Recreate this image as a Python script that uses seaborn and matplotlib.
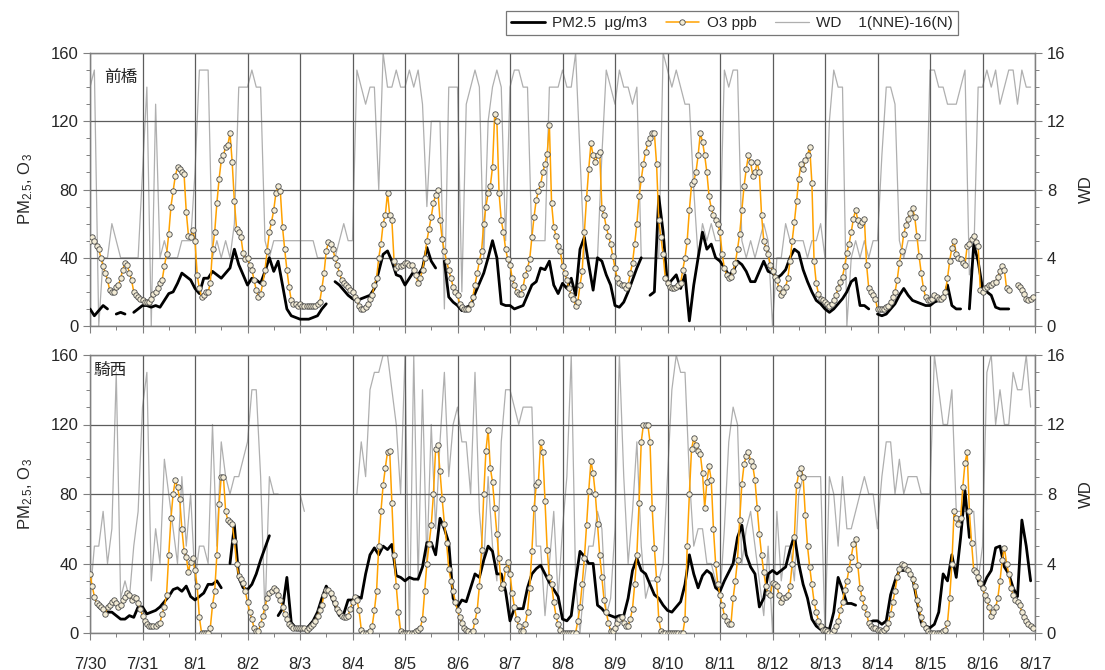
import numpy as np
import pandas as pd
import matplotlib
matplotlib.use("Agg")
import matplotlib.pyplot as plt
from matplotlib.lines import Line2D
from matplotlib.ticker import MultipleLocator
import seaborn as sns

nan = np.nan

# ---------------------------------------------------------------------------
# Data, starting 7/30 00:00.  O3 is hourly (24 values per day);
# PM2.5 and wind direction are every 2 hours (12 values per day).
# ---------------------------------------------------------------------------
date_labels = ["7/30", "7/31", "8/1", "8/2", "8/3", "8/4", "8/5", "8/6", "8/7",
               "8/8", "8/9", "8/10", "8/11", "8/12", "8/13", "8/14", "8/15",
               "8/16", "8/17"]
stations = ["前橋", "騎西"]
O3_STEP_HOURS = 1
PM_STEP_HOURS = 2
WD_STEP_HOURS = 2

# 前橋 (Maebashi)
maebashi_o3 = [
    50, 52, 50, 47, 45, 40, 35, 31, 27, 21, 20, 20, 23, 24, 28, 33, 37, 36, 31, 27, 20, 18, 17, 16,          # 7/30
    15, 14, 14, 14, 16, 19, 20, 22, 25, 27, 35, 42, 54, 70, 79, 88, 93, 92, 90, 89, 67, 53, 52, 56,          # 7/31
    50, 30, 22, 17, 18, 20, 20, 25, 45, 55, 72, 86, 97, 100, 105, 106, 113, 96, 73, 57, 55, 52, 43, 39,     # 8/1
    40, 36, 33, 27, 21, 17, 19, 25, 33, 44, 55, 61, 68, 78, 82, 79, 58, 45, 33, 23, 15, 13, 13, 12,          # 8/2
    13, 12, 12, 12, 12, 12, 12, 12, 13, 14, 22, 31, 44, 49, 48, 45, 40, 36, 31, 27, 25, 24, 23, 21,          # 8/3
    20, 17, 15, 12, 10, 10, 11, 13, 16, 18, 24, 28, 40, 48, 60, 65, 78, 65, 62, 38, 34, 35, 35, 36,          # 8/4
    37, 37, 36, 36, 33, 30, 25, 28, 33, 40, 50, 57, 64, 72, 77, 80, 62, 51, 44, 38, 33, 28, 23, 20,          # 8/5
    18, 13, 11, 10, 10, 10, 13, 17, 24, 31, 38, 44, 60, 70, 78, 82, 93, 124, 120, 78, 62, 55, 45, 39,       # 8/6
    36, 28, 24, 20, 19, 19, 23, 30, 34, 39, 52, 64, 74, 79, 83, 90, 95, 101, 118, 72, 58, 53, 47, 44,       # 8/7
    35, 31, 27, 22, 18, 16, 12, 14, 24, 32, 55, 75, 92, 107, 100, 96, 100, 102, 69, 65, 58, 53, 48, 41,     # 8/8
    34, 28, 25, 24, 24, 22, 24, 31, 37, 48, 60, 76, 86, 95, 102, 107, 110, 113, 113, 95, 62, 52, 42, 28,    # 8/9
    25, 23, 22, 22, 23, 24, 25, 33, 40, 50, 68, 83, 85, 90, 100, 113, 108, 100, 90, 76, 69, 65, 62, 60,     # 8/10
    55, 42, 34, 30, 28, 29, 32, 37, 45, 54, 68, 82, 92, 100, 96, 88, 90, 96, 90, 65, 50, 46, 42, 36,        # 8/11
    32, 29, 27, 22, 18, 20, 23, 28, 38, 50, 61, 73, 86, 95, 92, 97, 100, 105, 84, 38, 25, 19, 16, 15,       # 8/12
    14, 13, 12, 13, 15, 18, 22, 26, 29, 35, 43, 48, 55, 63, 68, 62, 59, 61, 63, 36, 22, 20, 18, 16,         # 8/13
    10, 10, 10, 10, 11, 12, 14, 17, 20, 27, 37, 44, 54, 59, 63, 66, 69, 64, 53, 41, 31, 22, 17, 15,         # 8/14
    15, 16, 18, 17, 16, 16, 17, 20, 28, 38, 46, 50, 42, 40, 39, 37, 36, 47, 48, 51, 53, 49, 47, 21,         # 8/15
    20, 22, 23, 24, 24, 25, 26, 29, 32, 35, 33, 22, 21, nan, nan, nan, 24, 23, 21, 19, 16, 15, 16, 17,      # 8/16
]
maebashi_pm = [
    10, 6, 9, 12, 10, nan, 7, 8, 7, nan, 8, 10,          # 7/30
    12, 12, 11, 12, 11, 15, 19, 20, 25, 31, 29, 27,      # 7/31
    22, 19, 28, 28, 32, 30, 28, 31, 34, 45, 36, 30,      # 8/1
    24, 28, 27, 25, 32, 40, 32, 38, 24, 10, 6, 5,        # 8/2
    4, 4, 4, 5, 6, 10, 13, nan, 26, 24, 21, 18,          # 8/3
    16, 15, 16, 17, 18, 22, 32, 42, 44, 38, 30, 29,      # 8/4
    24, 28, 32, 30, 34, 46, 38, 34, nan, 38, 17, 14,     # 8/5
    12, 9, 11, 12, 19, 25, 31, 40, 50, 40, 13, 12,       # 8/6
    12, 10, 11, 12, 18, 24, 26, 34, 33, 38, 24, 19,      # 8/7
    25, 22, 28, 18, 45, 52, 36, 21, 40, 38, 30, 24,      # 8/8
    12, 11, 14, 20, 27, 34, 40, nan, 18, 20, 76, 55,     # 8/9
    24, 27, 30, 22, 30, 3, 24, 40, 55, 45, 48, 40,       # 8/10
    38, 34, 30, 32, 38, 36, 32, 26, 26, 32, 38, 32,      # 8/11
    31, 28, 30, 33, 40, 45, 43, 33, 26, 20, 15, 13,      # 8/12
    10, 8, 10, 13, 16, 20, 26, 28, 12, 12, 10, nan,      # 8/13
    7, 6, 7, 10, 13, 18, 22, 18, 15, 14, 13, 12,         # 8/14
    12, 14, 15, 16, 24, 12, 10, 10, nan, 10, 48, 38,     # 8/15
    22, 20, 18, 11, 10, 10, 10, nan, nan, nan, nan, nan, # 8/16
]
maebashi_wd = [
    14, 15, 0, 4, 4, 6, 5, 4, 4, 4, 4, 4,                # 7/30
    9, 14, 0, 13, 4, 5, 4, 4, 4, 5, 5, 5,                # 7/31
    9, 15, 15, 15, 4, 5, 4, 5, 4, 6, 14, 14,             # 8/1
    14, 15, 14, 14, 5, 4, 5, 5, 5, 5, 5, 5,              # 8/2
    5, 5, 5, 5, 4, 4, 4, 4, 4, 5, 6, 5,                  # 8/3
    5, 15, 14, 13, 14, 14, 8, 16, 14, 14, 15, 14,        # 8/4
    14, 15, 14, 15, 13, 7, 12, 12, 12, 1, 14, 14,        # 8/5
    14, 2, 13, 14, 15, 14, 4, 12, 14, 15, 14, 5,         # 8/6
    14, 15, 15, 14, 14, 5, 5, 5, 5, 14, 14, 14,          # 8/7
    15, 14, 14, 16, 10, 4, 4, 4, 4, 10, 15, 14,          # 8/8
    13, 15, 14, 14, 13, 14, 4, 4, 4, 4, 4, 16,           # 8/9
    15, 14, 15, 14, 13, 13, 8, 4, 6, 5, 6, 5,            # 8/10
    5, 15, 14, 15, 15, 5, 4, 5, 4, 5, 6, 5,              # 8/11
    0, 4, 4, 6, 5, 5, 5, 5, 4, 5, 5, 6,                  # 8/12
    4, 12, 15, 14, 14, 0, 4, 5, 4, 5, 4, 5,              # 8/13
    5, 10, 14, 14, 13, 5, 4, 5, 5, 5, 5, 5,              # 8/14
    15, 15, 14, 14, 13, 13, 13, 14, 15, 3, 4, 14,        # 8/15
    14, 15, 14, 15, 13, 14, 15, 15, 13, 15, 14, 14,      # 8/16
]

# 騎西 (Kisai)
kisai_o3 = [
    34, 27, 21, 17, 16, 15, 14, 11, 15, 16, 18, 19, 17, 15, 16, 19, 21, 23, 22, 19, 21, 20, 17, 14,         # 7/30
    10, 7, 5, 4, 4, 4, 4, 5, 6, 11, 15, 22, 45, 66, 80, 88, 84, 77, 60, 47, 44, 35, 41, 43,                 # 7/31
    36, 27, 9, 0, 0, 0, 0, 3, 16, 24, 45, 74, 90, 90, 70, 65, 64, 63, 53, 40, 33, 31, 29, 24,               # 8/1
    18, 12, 8, 3, 1, 1, 5, 10, 15, 20, 23, 24, 26, 25, 22, 19, 15, 11, 8, 5, 4, 3, 3, 3,                    # 8/2
    3, 3, 3, 2, 3, 4, 5, 7, 10, 13, 16, 22, 25, 25, 23, 20, 17, 14, 12, 10, 9, 9, 10, 14,                   # 8/3
    18, 21, 19, 13, 2, 0, 0, 0, 1, 4, 13, 24, 50, 70, 85, 95, 104, 105, 75, 45, 27, 12, 1, 0,               # 8/4
    0, 0, 0, 0, 0, 1, 2, 3, 8, 24, 40, 51, 62, 80, 106, 108, 93, 77, 63, 52, 37, 30, 24, 18,                # 8/5
    13, 9, 6, 3, 2, 1, 0, 1, 7, 13, 27, 48, 80, 105, 117, 95, 87, 72, 57, 43, 26, 28, 37, 41,               # 8/6
    34, 23, 15, 8, 4, 1, 1, 5, 12, 26, 47, 72, 85, 87, 110, 104, 76, 48, 32, 28, 18, 10, 5, 2,              # 8/7
    0, 0, 0, 0, 0, 0, 0, 7, 15, 28, 43, 62, 82, 99, 92, 80, 63, 45, 32, 19, 12, 6, 1, 1,                    # 8/8
    3, 6, 8, 9, 6, 4, 4, 8, 14, 28, 45, 75, 110, 120, 120, 120, 110, 72, 49, 31, 8, 1, 0, 0,                # 8/9
    0, 0, 0, 0, 0, 0, 0, 0, 8, 50, 80, 106, 112, 108, 105, 103, 92, 72, 87, 96, 88, 60, 40, 28,             # 8/10
    22, 16, 10, 7, 5, 5, 20, 30, 42, 65, 86, 97, 102, 104, 99, 96, 88, 72, 57, 45, 35, 27, 23, 22,          # 8/11
    29, 28, 27, 22, 18, 20, 21, 22, 27, 40, 55, 85, 92, 95, 90, 68, 50, 38, 28, 18, 12, 7, 4, 2,            # 8/12
    2, 1, 0, 0, 2, 4, 7, 13, 18, 25, 30, 37, 44, 51, 54, 39, 26, 20, 15, 11, 6, 4, 3, 3,                    # 8/13
    2, 2, 1, 2, 3, 6, 11, 18, 24, 32, 37, 40, 39, 37, 36, 34, 31, 27, 19, 14, 9, 5, 3, 1,                   # 8/14
    0, 0, 0, 0, 0, 0, 1, 2, 6, 20, 40, 70, 66, 63, 66, 84, 98, 104, 70, 52, 36, 35, 32, 29,                 # 8/15
    26, 22, 19, 15, 10, 12, 15, 20, 30, 42, 49, 40, 34, 26, 22, 19, 18, 16, 12, 9, 7, 5, 4, 3,              # 8/16
]
kisai_pm = [
    nan, nan, 15, 13, 12, 12, 10, 8, 8, 10, 9, 15,       # 7/30
    15, 11, 12, 13, 15, 18, 21, 25, 26, 24, 27, 21,      # 7/31
    19, 21, 23, 28, 28, 30, 26, nan, 40, 62, 32, 26,     # 8/1
    25, 28, 34, 42, 49, 56, nan, 10, 14, 32, 6, 3,       # 8/2
    3, 2, 4, 7, 12, 20, 27, 22, 16, 10, 11, 19,          # 8/3
    19, 21, 20, 34, 45, 49, 45, 50, 48, 51, 33, 32,      # 8/4
    30, 32, 31, 31, 38, 52, 52, 45, 66, 60, 52, 20,      # 8/5
    15, 19, 18, 26, 34, 32, 42, 50, 47, 34, 34, 24,      # 8/6
    7, 14, 14, 14, 26, 34, 37, 39, 34, 29, 25, 21,       # 8/7
    8, 7, 10, 30, 47, 44, 40, 40, 16, 14, 11, 10,        # 8/8
    9, 10, 10, 20, 36, 43, 36, 34, 28, 22, 20, 16,       # 8/9
    13, 12, 15, 18, 28, 45, 34, 26, 33, 36, 34, 26,      # 8/10
    24, 30, 35, 40, 55, 62, 45, 38, 34, 15, 20, 34,      # 8/11
    36, 34, 36, 38, 48, 56, 40, 28, 20, 8, 4, 2,         # 8/12
    3, 2, 12, 32, 25, 17, 17, 16, nan, nan, 6, 7,        # 8/13
    7, 5, 7, 22, 30, 36, 36, 36, 32, 19, 6, 4,           # 8/14
    3, 5, 12, 34, 30, 45, 32, 55, 82, 55, nan, 30,       # 8/15
    26, 32, 36, 49, 50, 38, 34, 26, 21, 65, 50, 30,      # 8/16
]
kisai_wd = [
    2, 5, 5, 7, 4, 6, 15, 2, 3, 2, 5, 7,                 # 7/30
    13, 15, 3, 6, 4, 10, 8, 6, 4, 9, 5, 8,               # 7/31
    3, 5, 5, 4, 12, 5, 11, 9, 8, 9, 9, 10,               # 8/1
    11, 14, 14, 9, 1, 9, 8, 8, nan, nan, nan, nan,       # 8/2
    8, 7, nan, nan, nan, nan, nan, nan, nan, nan, nan, nan,  # 8/3
    nan, 8, 11, 9, 14, 15, 15, 16, 16, 14, 12, 8,        # 8/4
    16, 0, 16, 3, 14, 4, 12, 6, 11, 15, 9, 12,           # 8/5
    13, 11, 11, 8, 15, 7, 4, 9, 5, 3, 11, 14,            # 8/6
    14, 13, 12, 13, 13, 13, 5, 5, 1, 4, 7, 2,            # 8/7
    6, 9, 16, 3, 0, 3, 5, 5, 7, 6, 1, 2,                 # 8/8
    6, 16, 9, 4, 7, 11, 5, 2, 3, 3, 3, 4,                # 8/9
    9, 14, 16, 15, 15, 9, 5, 6, 6, 4, 4, 3,              # 8/10
    2, 6, 11, 13, 12, 4, 6, 7, 5, 3, 1, 5,               # 8/11
    0, 7, 3, 5, 5, 3, 8, 9, 9, 9, 9, 9,                  # 8/12
    0, 9, 8, 5, 9, 6, 6, 7, 8, 9, 8, 8,                  # 8/13
    6, 9, 11, 11, 8, 10, 8, 9, 9, 9, 8, 8,               # 8/14
    8, 16, 14, 12, 12, 14, 7, 7, 7, 7, 7, 3,             # 8/15
    5, 15, 16, 12, 14, 12, 12, 15, 14, 14, 16, 13,       # 8/16
]

# ---------------------------------------------------------------------------
# Styling
# ---------------------------------------------------------------------------
sns.set_style("ticks")
plt.rcParams["font.family"] = ["Liberation Sans", "Noto Sans CJK JP", "DejaVu Sans"]
plt.rcParams["mathtext.fontset"] = "custom"
plt.rcParams["mathtext.rm"] = "Liberation Sans"
plt.rcParams["mathtext.it"] = "Liberation Sans:italic"

PM_COLOR = "#000000"
O3_COLOR = "#FFA200"
WD_COLOR = "#AFAFAF"
GRID_COLOR = "#5c5c5c"
FRAME_COLOR = "#808080"
MARKER_FACE = "#f3ecd6"
MARKER_EDGE = "#4a4a4a"
TICK_FS = 12

fig = plt.figure(figsize=(11.05, 6.70), dpi=100)
ax_left, ax_width = 90 / 1105, 945 / 1105
axes_boxes = [
    (ax_left, 1 - 326 / 670, ax_width, 273 / 670),
    (ax_left, 1 - 633 / 670, ax_width, 278 / 670),
]


def runs(values, step_hours, col):
    """Series in days since 7/30 with a run id so that gaps stay open."""
    v = pd.Series(values, dtype=float)
    d = pd.DataFrame({"t": np.arange(len(v)) * step_hours / 24.0, col: v})
    d["run"] = d[col].isna().cumsum()
    return d.dropna()


series = [
    (maebashi_pm, maebashi_o3, maebashi_wd),
    (kisai_pm, kisai_o3, kisai_wd),
]

for i, ((pm, o3, wd), box, name) in enumerate(zip(series, axes_boxes, stations)):
    ax = fig.add_axes(box)
    ax_wd = ax.twinx()

    # wind direction on the secondary axis, kept behind the other series
    sns.lineplot(data=runs(wd, WD_STEP_HOURS, "wd"), x="t", y="wd", units="run",
                 estimator=None, ax=ax_wd, color=WD_COLOR, lw=0.9,
                 legend=False)
    ax.set_zorder(ax_wd.get_zorder() + 1)
    ax.patch.set_visible(False)

    sns.lineplot(data=runs(pm, PM_STEP_HOURS, "pm"), x="t", y="pm", units="run",
                 estimator=None, ax=ax, color=PM_COLOR, lw=2.0,
                 legend=False, zorder=3)
    sns.lineplot(data=runs(o3, O3_STEP_HOURS, "o3"), x="t", y="o3", units="run",
                 estimator=None, ax=ax, color=O3_COLOR, lw=1.1,
                 marker="o", markersize=3.9, markerfacecolor=MARKER_FACE,
                 markeredgecolor=MARKER_EDGE, markeredgewidth=0.6,
                 legend=False, zorder=4)

    ax.set_xlim(0, 18)
    ax.set_ylim(0, 160)
    ax_wd.set_ylim(0, 16)

    ax.xaxis.set_major_locator(MultipleLocator(1))
    ax.xaxis.set_minor_locator(MultipleLocator(0.5))
    ax.yaxis.set_major_locator(MultipleLocator(40))
    ax.yaxis.set_minor_locator(MultipleLocator(10))
    ax_wd.yaxis.set_major_locator(MultipleLocator(4))
    ax_wd.yaxis.set_minor_locator(MultipleLocator(1))

    ax.grid(which="major", color=GRID_COLOR, lw=0.9)
    ax.set_axisbelow(True)

    for a in (ax, ax_wd):
        a.tick_params(which="major", direction="out", length=5, width=0.8,
                      color=FRAME_COLOR, labelsize=TICK_FS)
        a.tick_params(which="minor", direction="out", length=3, width=0.7,
                      color=FRAME_COLOR)
        for sp in a.spines.values():
            sp.set_visible(True)
            sp.set_color(FRAME_COLOR)
            sp.set_linewidth(0.9)

    if i == 1:
        ax.set_xticks(range(len(date_labels)))
        ax.set_xticklabels(date_labels)
        ax.tick_params(axis="x", pad=12)
    else:
        ax.tick_params(axis="x", labelbottom=False)

    ax.set_xlabel("")
    ax.set_ylabel(r"PM$_{\mathrm{2.5}}$, O$_{\mathrm{3}}$", fontsize=12)
    ax.yaxis.set_label_coords(-0.058, 0.5)
    ax_wd.set_ylabel("WD", fontsize=12)
    ax_wd.yaxis.set_label_coords(1.047, 0.5)

    ax.text(0.015 if i == 0 else 0.004, 0.91 if i == 0 else 0.945, name,
            transform=ax.transAxes, fontsize=12, ha="left", va="center",
            family=["Noto Sans CJK JP"], zorder=6)

handles = [
    Line2D([], [], color=PM_COLOR, lw=2.0, label="PM2.5  μg/m3"),
    Line2D([], [], color=O3_COLOR, lw=1.1, marker="o", markersize=3.9,
           markerfacecolor=MARKER_FACE, markeredgecolor=MARKER_EDGE,
           markeredgewidth=0.6, label="O3 ppb"),
    Line2D([], [], color=WD_COLOR, lw=0.9, label="WD    1(NNE)-16(N)"),
]
leg = fig.legend(handles=handles, loc="upper right", ncol=3,
                 bbox_to_anchor=(966 / 1105, 1 - 3 / 670), fontsize=11,
                 frameon=True, fancybox=False, edgecolor="#555555",
                 handlelength=2.2, columnspacing=1.2, handletextpad=0.5,
                 borderpad=0.35)
leg.get_frame().set_linewidth(0.9)

fig.savefig("out.png", dpi=100)
